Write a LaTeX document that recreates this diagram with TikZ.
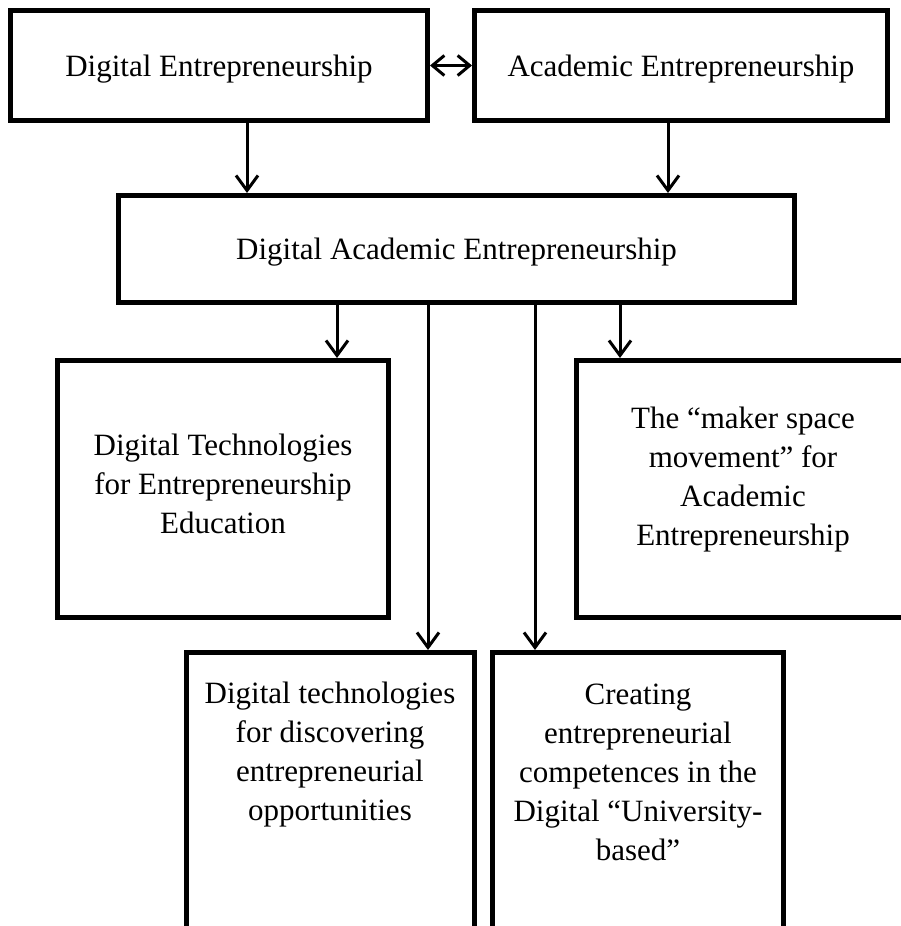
\documentclass[tikz,border=0pt]{standalone}
\usepackage{fontspec}
\setmainfont{Liberation Serif}
\usetikzlibrary{arrows.meta}
\tikzset{
  box/.style={draw, line width=5pt, rectangle, inner sep=0pt, align=center, text depth=0pt,
    font=\fontsize{31}{39}\selectfont},
  lbl/.style={inner sep=0pt, align=center, font=\fontsize{31}{39}\selectfont},
  arr/.style={line width=3pt, -{Straight Barb[length=15pt, width=22pt, line width=3pt]}},
  dbl/.style={line width=3pt, {Straight Barb[length=12pt, width=20pt, line width=3pt]}-{Straight Barb[length=12pt, width=20pt, line width=3pt]}}
}
\begin{document}
\begin{tikzpicture}[x=1pt, y=-1pt]
\useasboundingbox (0,0) rectangle (901,926);
\clip (0,0) rectangle (901,926);
\node[box, minimum width=417pt, minimum height=110pt] (de) at (219,65.5) {Digital Entrepreneurship};
\node[box, minimum width=413pt, minimum height=110pt] (ae) at (681,65.5) {Academic Entrepreneurship};
\node[box, minimum width=676pt, minimum height=107pt] (dae) at (456.5,249) {Digital Academic Entrepreneurship};
\node[box, minimum width=331pt, minimum height=257pt] (dtee) at (223,489) {};
\node[box, minimum width=333pt, minimum height=257pt] (maker) at (743,489) {};
\node[box, minimum width=288pt, minimum height=360pt] (dtdeo) at (330,832.5) {};
\node[box, minimum width=291pt, minimum height=360pt] (create) at (638,832.5) {};
\node[lbl] (dteetext) at ([yshift=5pt]dtee.center) {Digital Technologies\\for Entrepreneurship\\Education};
\node[lbl] (makertext) at ([yshift=9pt]maker.center) {The “maker space\\movement” for\\Academic\\Entrepreneurship};
\node[lbl, anchor=north] (dtdeotext) at ([yshift=-32pt]dtdeo.north) {Digital technologies\\for discovering\\entrepreneurial\\opportunities};
\node[lbl, anchor=north] (createtext) at ([yshift=-34pt]create.north) {Creating\\entrepreneurial\\competences in the\\Digital “University-\\based”};
\coordinate (xa) at (247,0);
\coordinate (xb) at (668,0);
\coordinate (x1) at (337,0);
\coordinate (x2) at (428,0);
\coordinate (x3) at (535,0);
\coordinate (x4) at (620,0);
\draw[dbl] (de.east) -- (ae.west);
\draw[arr] (de.south -| xa) -- (dae.north -| xa);
\draw[arr] (ae.south -| xb) -- (dae.north -| xb);
\draw[arr] (dae.south -| x1) -- (dtee.north -| x1);
\draw[arr] (dae.south -| x2) -- (dtdeo.north -| x2);
\draw[arr] (dae.south -| x3) -- (create.north -| x3);
\draw[arr] (dae.south -| x4) -- (maker.north -| x4);
\end{tikzpicture}
\end{document}
